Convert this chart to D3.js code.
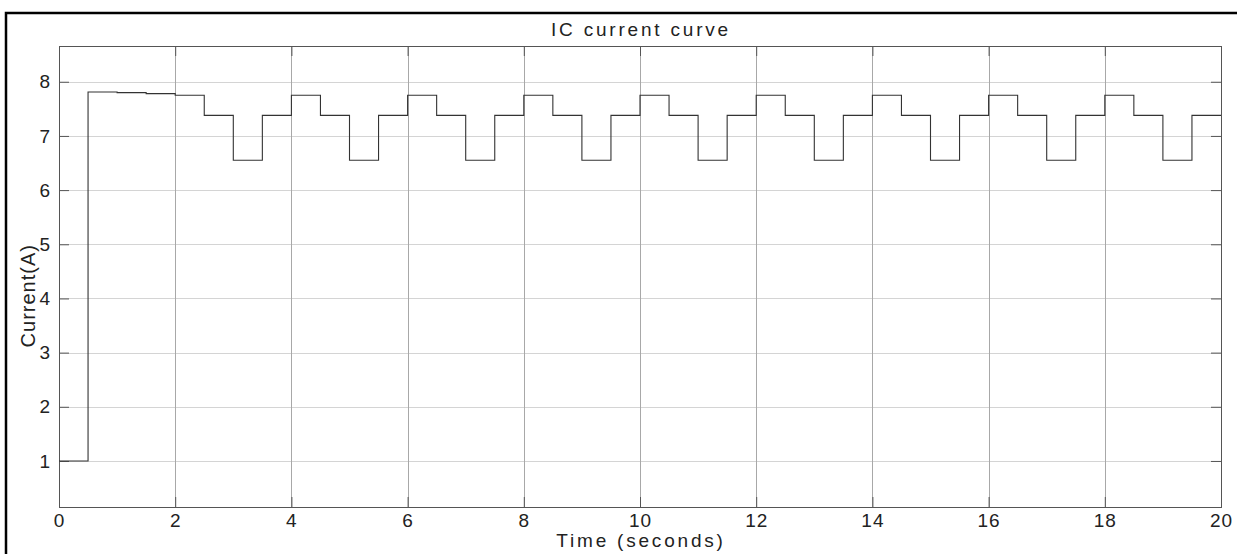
<!DOCTYPE html>
<html>
<head>
<meta charset="utf-8">
<script src="https://cdn.jsdelivr.net/npm/d3@7"></script>
<style>
  html, body { margin: 0; padding: 0; background: #fff; }
  svg text { font-family: "Liberation Sans", Arial, sans-serif; fill: #222; }
</style>
</head>
<body>
<div id="chart"></div>
<script>
// IC current curve - step response
const stepTimes = [
  0, 0.5, 1, 1.5,
  2, 2.5, 3, 3.5,
  4, 4.5, 5, 5.5,
  6, 6.5, 7, 7.5,
  8, 8.5, 9, 9.5,
  10, 10.5, 11, 11.5,
  12, 12.5, 13, 13.5,
  14, 14.5, 15, 15.5,
  16, 16.5, 17, 17.5,
  18, 18.5, 19, 19.5,
];
const stepValues = [
  1, 7.81, 7.80, 7.78,
  7.75, 7.38, 6.55, 7.38,
  7.75, 7.38, 6.55, 7.38,
  7.75, 7.38, 6.55, 7.38,
  7.75, 7.38, 6.55, 7.38,
  7.75, 7.38, 6.55, 7.38,
  7.75, 7.38, 6.55, 7.38,
  7.75, 7.38, 6.55, 7.38,
  7.75, 7.38, 6.55, 7.38,
  7.75, 7.38, 6.55, 7.38,
];
const xTicks = [0, 2, 4, 6, 8, 10, 12, 14, 16, 18, 20];
const yTicks = [1, 2, 3, 4, 5, 6, 7, 8];
const xDomain = [0, 20];
const yDomain = [0.15, 8.66];

const W = 1237, H = 554;
const margin = { top: 46, right: 16, bottom: 47, left: 59 };
const width = W - margin.left - margin.right;
const height = H - margin.top - margin.bottom;
const tickLen = 10;

const svg = d3
  .select("#chart")
  .append("svg")
  .attr("width", W)
  .attr("height", H);

svg.append("rect").attr("width", W).attr("height", H).attr("fill", "#fff");

// figure frame (only left and top edges are visible in the picture)
svg
  .append("rect")
  .attr("x", 6)
  .attr("y", 13)
  .attr("width", W + 20)
  .attr("height", H + 20)
  .attr("fill", "none")
  .attr("stroke", "#000")
  .attr("stroke-width", 2.5);

const g = svg
  .append("g")
  .attr("transform", `translate(${margin.left},${margin.top})`);

const x = d3.scaleLinear().domain(xDomain).range([0, width]);
const y = d3.scaleLinear().domain(yDomain).range([height, 0]);

// grid
g.append("g")
  .selectAll("line")
  .data(yTicks)
  .join("line")
  .attr("x1", 0)
  .attr("x2", width)
  .attr("y1", (d) => Math.round(y(d)) + 0.5)
  .attr("y2", (d) => Math.round(y(d)) + 0.5)
  .attr("stroke", "#d4d4d4")
  .attr("stroke-width", 1);

g.append("g")
  .selectAll("line")
  .data(xTicks.slice(1, -1))
  .join("line")
  .attr("x1", (d) => Math.round(x(d)) + 0.5)
  .attr("x2", (d) => Math.round(x(d)) + 0.5)
  .attr("y1", 0)
  .attr("y2", height)
  .attr("stroke", "#a8a8a8")
  .attr("stroke-width", 1);

// axes with inward ticks on all four sides
const axisColor = "#555";
const bottomAxis = g
  .append("g")
  .attr("transform", `translate(0,${height})`)
  .call(d3.axisBottom(x).tickValues(xTicks).tickSize(-tickLen).tickPadding(7).tickSizeOuter(0));
const topAxis = g
  .append("g")
  .call(d3.axisTop(x).tickValues(xTicks).tickSize(-tickLen).tickFormat("").tickSizeOuter(0));
const leftAxis = g
  .append("g")
  .call(d3.axisLeft(y).tickValues(yTicks).tickSize(-tickLen).tickPadding(9).tickSizeOuter(0));
const rightAxis = g
  .append("g")
  .attr("transform", `translate(${width},0)`)
  .call(d3.axisRight(y).tickValues(yTicks).tickSize(-tickLen).tickFormat("").tickSizeOuter(0));

[bottomAxis, topAxis, leftAxis, rightAxis].forEach((a) => {
  a.select(".domain").remove();
  a.selectAll("line").attr("stroke", axisColor);
  a.selectAll("text")
    .style("font-size", "19px")
    .attr("fill", "#222");
});
bottomAxis.selectAll("text").style("letter-spacing", "1px");

g.append("rect")
  .attr("x", 0.5)
  .attr("y", 0.5)
  .attr("width", width)
  .attr("height", height)
  .attr("fill", "none")
  .attr("stroke", axisColor)
  .attr("stroke-width", 1);

// the current curve
const points = stepTimes.map((t, i) => [t, stepValues[i]]);
points.push([xDomain[1], stepValues[stepValues.length - 1]]);

const line = d3
  .line()
  .x((d) => x(d[0]))
  .y((d) => y(d[1]))
  .curve(d3.curveStepAfter);

g.append("path")
  .datum(points)
  .attr("d", line)
  .attr("fill", "none")
  .attr("stroke", "#333")
  .attr("stroke-width", 1.1);

// labels
svg
  .append("text")
  .attr("x", margin.left + width / 2 + 1)
  .attr("y", 36)
  .attr("text-anchor", "middle")
  .style("font-size", "19px")
  .style("letter-spacing", "2.8px")
  .text("IC current curve");

svg
  .append("text")
  .attr("x", margin.left + width / 2 + 1)
  .attr("y", 547)
  .attr("text-anchor", "middle")
  .style("font-size", "19px")
  .style("letter-spacing", "2.8px")
  .text("Time (seconds)");

svg
  .append("text")
  .attr("transform", `translate(35,${margin.top + y(4.05)}) rotate(-90)`)
  .attr("text-anchor", "middle")
  .style("font-size", "20px")
  .style("letter-spacing", "1px")
  .text("Current(A)");
</script>
</body>
</html>
